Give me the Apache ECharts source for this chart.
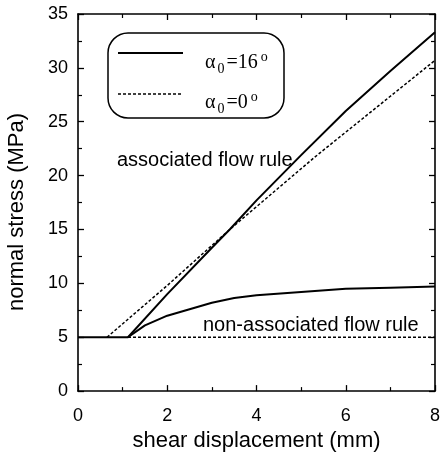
<!DOCTYPE html>
<html>
<head>
<meta charset="utf-8">
<script src="https://cdn.jsdelivr.net/npm/echarts@6/dist/echarts.min.js"></script>
<style>
  html, body { margin: 0; padding: 0; background: #fff; }
  #chart { width: 445px; height: 457px; }
</style>
</head>
<body>
<div id="chart"></div>
<script>
// shear displacement (mm) vs normal stress (MPa)
var assoc16 = [[0, 5], [1.12, 5], [2, 9], [3, 13.3], [3.4, 15], [4, 17.7], [5, 21.9], [6, 26.0], [7, 29.7], [8, 33.3]];
var assoc0 = [[0.65, 5], [2, 9.8], [3.4, 15], [5.3, 21.7], [8, 30.7]];
var nonAssoc16 = [[1.12, 5], [1.5, 6.1], [2, 7.0], [2.5, 7.6], [3, 8.2], [3.5, 8.65], [4, 8.9], [5, 9.2], [6, 9.5], [7, 9.6], [8, 9.7]];
var nonAssoc0 = [[1.12, 5], [8, 5]];

var xTicks = [0, 2, 4, 6, 8];
var yTicks = [0, 5, 10, 15, 20, 25, 30, 35];

var chart = echarts.init(document.getElementById('chart'));
var font = 'Liberation Sans, Arial, sans-serif';
var serif = 'Liberation Serif, Times New Roman, serif';

function frameAxis(pos, isX, showLabel) {
    return {
        type: 'value',
        position: pos,
        min: isX ? xTicks[0] : yTicks[0],
        max: isX ? xTicks[xTicks.length - 1] : yTicks[yTicks.length - 1],
        interval: isX ? 2 : 5,
        axisLine: { show: true, onZero: false, lineStyle: { color: '#000', width: 1.6 } },
        axisTick: { show: true, inside: true, length: 6, lineStyle: { color: '#000', width: 1.3 } },
        minorTick: { show: true, splitNumber: 2, length: 4, lineStyle: { color: '#000', width: 1.2 } },
        splitLine: { show: false },
        axisLabel: {
            show: showLabel,
            color: '#000',
            fontFamily: font,
            fontSize: 18,
            margin: isX ? 16 : 10
        }
    };
}

var xBottom = frameAxis('bottom', true, true);
xBottom.name = 'shear displacement (mm)';
xBottom.nameLocation = 'middle';
xBottom.nameGap = 33;
xBottom.nameTextStyle = { color: '#000', fontFamily: font, fontSize: 22 };
var xTop = frameAxis('top', true, false);
var yLeft = frameAxis('left', false, true);
var yRight = frameAxis('right', false, false);

function lineSeries(data, dashed) {
    return {
        type: 'line',
        data: data,
        symbol: 'none',
        silent: true,
        lineStyle: dashed
            ? { color: '#000', width: 1.5, type: [3, 2] }
            : { color: '#000', width: 2 }
    };
}

var legendRich = {
    a: { fontFamily: serif, fontSize: 20, lineHeight: 26, fill: '#000', verticalAlign: 'middle' },
    s: { fontFamily: serif, fontSize: 14, lineHeight: 26, fill: '#000', verticalAlign: 'bottom', padding: [0, 2, 0, 2] },
    d: { fontFamily: serif, fontSize: 14, lineHeight: 26, fill: '#000', verticalAlign: 'top', padding: [0, 0, 0, 3] }
};

var option = {
    animation: false,
    backgroundColor: '#fff',
    grid: { left: 78, right: 10, top: 14, bottom: 64 },
    xAxis: [xBottom, xTop],
    yAxis: [yLeft, yRight],
    series: [
        lineSeries(nonAssoc0, true),
        lineSeries(assoc0, true),
        lineSeries(assoc16, false),
        lineSeries(nonAssoc16, false)
    ],
    graphic: [
        {
            type: 'text', x: 17, y: 212, rotation: Math.PI / 2,
            style: { text: 'normal stress (MPa)', fill: '#000', font: '22px ' + font, align: 'center', verticalAlign: 'middle' }
        },
        {
            type: 'text', x: 117, y: 160,
            style: { text: 'associated flow rule', fill: '#000', font: '20px ' + font, verticalAlign: 'middle' }
        },
        {
            type: 'text', x: 203, y: 325,
            style: { text: 'non-associated flow rule', fill: '#000', font: '20px ' + font, verticalAlign: 'middle' }
        },
        {
            type: 'group', x: 108, y: 33,
            children: [
                { type: 'rect', shape: { x: 0, y: 0, width: 176, height: 85, r: 20 },
                  style: { fill: '#fff', stroke: '#000', lineWidth: 1.5 } },
                { type: 'line', shape: { x1: 10, y1: 20, x2: 75, y2: 20 },
                  style: { stroke: '#000', lineWidth: 2 } },
                { type: 'line', shape: { x1: 10, y1: 61, x2: 75, y2: 61 },
                  style: { stroke: '#000', lineWidth: 1.5, lineDash: [3, 2] } },
                { type: 'text', x: 97, y: 30,
                  style: { text: '{a|α}{s|0}{a|=16}{d|o}', verticalAlign: 'middle', rich: legendRich } },
                { type: 'text', x: 97, y: 70,
                  style: { text: '{a|α}{s|0}{a|=0}{d|o}', verticalAlign: 'middle', rich: legendRich } }
            ]
        }
    ]
};
chart.setOption(option);
</script>
</body>
</html>
